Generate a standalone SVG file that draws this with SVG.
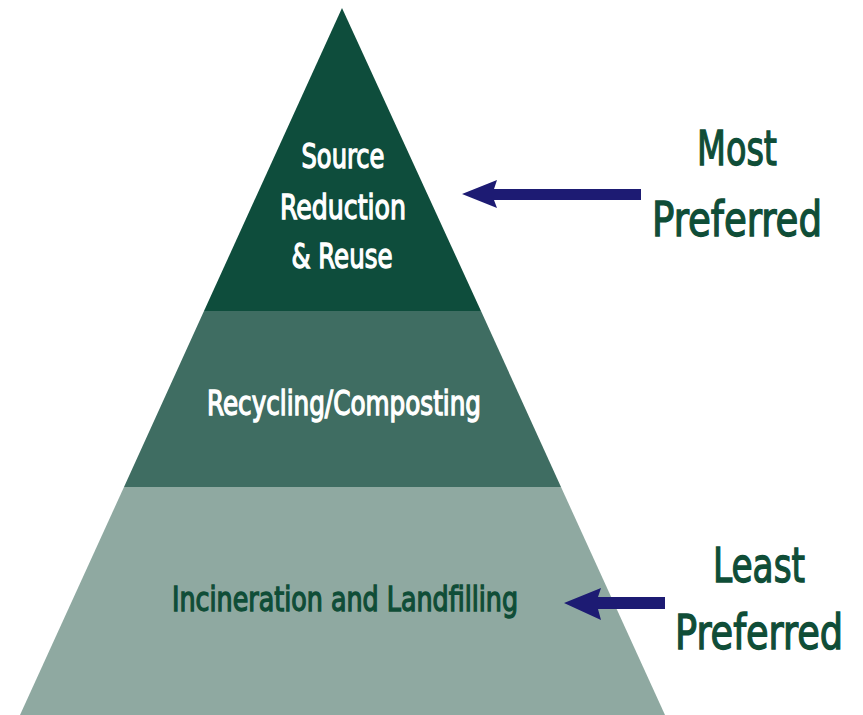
<svg xmlns="http://www.w3.org/2000/svg" width="863" height="715" viewBox="0 0 863 715">
<style>
.t{font-family:"DejaVu Sans Condensed","DejaVu Sans",sans-serif;font-weight:normal;text-anchor:middle;stroke-width:1.3;paint-order:stroke}
.w{fill:#ffffff;stroke:#ffffff}
.g{fill:#0f4d37;stroke:#0f4d37}
.arrow{fill:#1d1b73}
</style>
<rect width="863" height="715" fill="#ffffff"/>
<g id="tier-top">
<polygon points="342,8 481,311 204,311" fill="#0e4d3c"/>
<text class="t w" x="343" y="168" font-size="34" textLength="83" lengthAdjust="spacingAndGlyphs">Source</text>
<text class="t w" x="343" y="219" font-size="34" textLength="126" lengthAdjust="spacingAndGlyphs">Reduction</text>
<text class="t w" x="342" y="268" font-size="34" textLength="101" lengthAdjust="spacingAndGlyphs">&amp; Reuse</text>
</g>
<g id="tier-middle">
<polygon points="204,311 481,311 561,487 124,487" fill="#3f6d62"/>
<text class="t w" x="344" y="415" font-size="33" textLength="274" lengthAdjust="spacingAndGlyphs">Recycling/Composting</text>
</g>
<g id="tier-bottom">
<polygon points="124,487 561,487 665,715 20,715" fill="#8fa9a1"/>
<text class="t g" x="345" y="611" font-size="33" textLength="346" lengthAdjust="spacingAndGlyphs">Incineration and Landfilling</text>
</g>
<g id="connectors">
<polygon class="arrow" points="462,194 497,180 494,189 641,189 641,200 494,200 497,208"/>
<polygon class="arrow" points="564,603 601,588 598,597 665,597 665,609 598,609 601,620"/>
</g>
<g id="label-most">
<text class="t g" x="737" y="165" font-size="48" textLength="80" lengthAdjust="spacingAndGlyphs">Most</text>
<text class="t g" x="737" y="236" font-size="48" textLength="170" lengthAdjust="spacingAndGlyphs">Preferred</text>
</g>
<g id="label-least">
<text class="t g" x="759" y="582" font-size="48" textLength="92" lengthAdjust="spacingAndGlyphs">Least</text>
<text class="t g" x="759" y="649" font-size="48" textLength="168" lengthAdjust="spacingAndGlyphs">Preferred</text>
</g>
</svg>
